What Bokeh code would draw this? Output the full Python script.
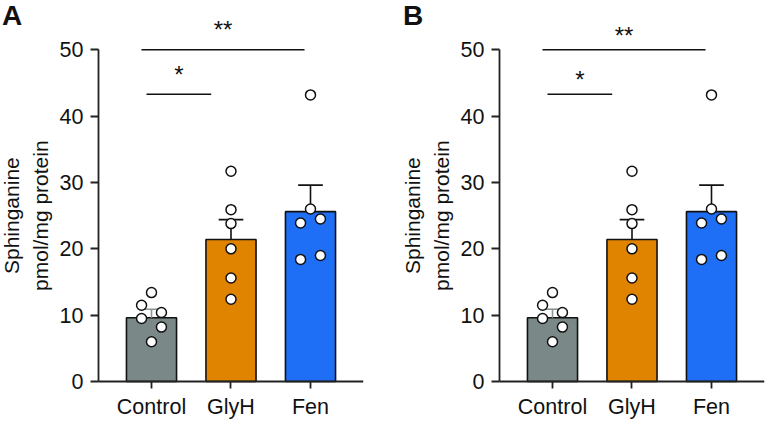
import math
from bokeh.plotting import figure
from bokeh.layouts import row
from bokeh.models import Range1d, FixedTicker, Label, ColumnDataSource
from bokeh.core.properties import value
from bokeh.embed import file_html
from bokeh.resources import INLINE

# ---------------- data ----------------
categories = ["Control", "GlyH", "Fen"]
means = [9.6, 21.4, 25.6]
sem = [1.3, 3.0, 4.0]
control_pts = [13.4, 11.5, 10.4, 9.5, 8.2, 6.0]
glyh_pts = [31.7, 25.9, 23.8, 20.0, 15.6, 12.4]
fen_pts = [43.2, 26.0, 23.9, 24.5, 18.4, 19.0]
y_ticks = [0, 10, 20, 30, 40, 50]
sig_labels = ["*", "**"]
sig_levels = [43.3, 50.0]
y_label_lines = ["Sphinganine", "pmol/mg protein"]

# ---------------- layout / style ----------------
bar_colors = ["#7a8987", "#e08400", "#1f6ef6"]
err_colors = ["#8c9694", "#111111", "#111111"]
point_dx = [
    [0, -0.125, 0.125, -0.125, 0.125, 0],
    [0, 0, 0, 0, 0, 0],
    [0, 0, -0.125, 0.125, -0.125, 0.125],
]
sig_x0 = [0.937, 0.874]
sig_x1 = [1.751, 2.925]
FONT = "Liberation Sans"
INK = "#111111"
X_LO, X_HI = -0.8994, 3.6667     # data span of the frame
Y_LO, Y_HI = -6.03, 57.43
Y_AXIS_AT = 0.3333                # where the y axis sits
cat_x = [i + 1 for i in range(len(categories))]


def make_panel(letter, right_border, star_offset):
    p = figure(
        x_range=Range1d(X_LO, X_HI),
        y_range=Range1d(Y_LO, Y_HI),
        frame_width=363, frame_height=421,
        min_border_left=0, min_border_right=right_border,
        min_border_top=0, min_border_bottom=0,
        output_backend="svg", toolbar_location=None, tools="",
    )
    p.outline_line_color = None
    p.xgrid.grid_line_color = None
    p.ygrid.grid_line_color = None
    p.background_fill_color = "white"
    p.border_fill_color = "white"

    # bars
    src = ColumnDataSource(dict(x=cat_x, mean=means,
                                upper=[m + s for m, s in zip(means, sem)],
                                color=bar_colors, ecolor=err_colors))
    p.vbar(x="x", top="mean", bottom=0, width=0.63, source=src,
           fill_color="color", line_color=INK, line_width=1.6)

    # error bars (upper only) with cap
    p.segment(x0="x", y0="mean", x1="x", y1="upper", source=src,
              line_color="ecolor", line_width=1.6)
    cap_src = ColumnDataSource(dict(
        x0=[x - 0.155 for x in cat_x], x1=[x + 0.155 for x in cat_x],
        y=src.data["upper"], ecolor=err_colors))
    p.segment(x0="x0", y0="y", x1="x1", y1="y", source=cap_src,
              line_color="ecolor", line_width=1.6)

    # individual points
    xs, ys = [], []
    for i, pts in enumerate([control_pts, glyh_pts, fen_pts]):
        for v, dx in zip(pts, point_dx[i]):
            xs.append(cat_x[i] + dx)
            ys.append(v)
    p.scatter(x=xs, y=ys, size=10, marker="circle", fill_color="white",
              line_color=INK, line_width=1.5)

    # significance brackets
    p.segment(x0=sig_x0, y0=sig_levels, x1=sig_x1, y1=sig_levels,
              line_color=INK, line_width=1.6)
    p.text(x=[(a + b) / 2 for a, b in zip(sig_x0, sig_x1)],
           y=[lv + star_offset for lv in sig_levels],
           text=sig_labels, text_align="center", text_baseline="middle",
           text_font=value(FONT), text_font_size="24px", text_color=INK)

    # axes (fixed inside the frame so that the whole panel is one frame)
    for ax in (p.xaxis, p.yaxis):
        ax.axis_line_width = 1.8
        ax.axis_line_color = "#222222"
        ax.major_tick_line_width = 1.8
        ax.major_tick_line_color = "#222222"
        ax.major_tick_in = 0
        ax.minor_tick_in = 0
        ax.minor_tick_out = 0
        ax.major_label_text_font = FONT
        ax.major_label_text_font_size = "21.5px"
        ax.major_label_text_color = INK
    p.yaxis.ticker = FixedTicker(ticks=y_ticks)
    p.yaxis.bounds = (0, 50)
    p.yaxis.fixed_location = Y_AXIS_AT
    p.yaxis.major_tick_out = 8
    p.yaxis.major_label_standoff = 7
    p.xaxis.ticker = FixedTicker(ticks=cat_x)
    p.xaxis.major_label_overrides = {x: c for x, c in zip(cat_x, categories)}
    p.xaxis.bounds = (Y_AXIS_AT, X_HI)
    p.xaxis.fixed_location = 0
    p.xaxis.major_tick_out = 7
    p.xaxis.major_label_standoff = 7

    # y axis title (two lines)
    for txt, xpos in zip(y_label_lines, [11, 39.5]):
        p.add_layout(Label(x=xpos, y=25, x_units="screen", y_units="data",
                           text=txt, angle=math.pi / 2, text_align="center",
                           text_baseline="alphabetic", text_font=FONT,
                           text_font_size="21px", text_color=INK))
    # panel letter
    p.add_layout(Label(x=1.5, y=55.2, x_units="screen", y_units="data",
                       text=letter, text_align="left",
                       text_baseline="alphabetic", text_font=FONT,
                       text_font_style="bold", text_font_size="28px",
                       text_color=INK))
    return p


pA = make_panel("A", 38, 3.0)
pB = make_panel("B", 3, 2.2)
layout = row(pA, pB)

open("out.html", "w").write(file_html(layout, INLINE))
